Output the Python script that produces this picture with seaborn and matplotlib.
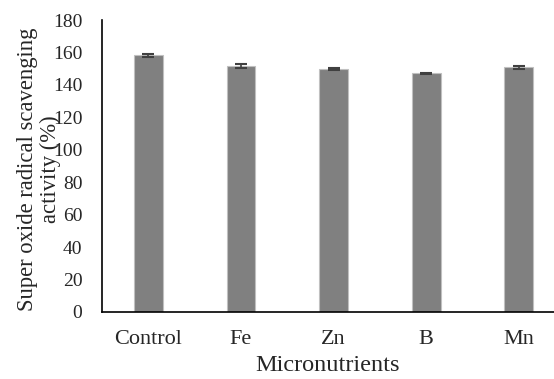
import matplotlib
matplotlib.use("Agg")
import matplotlib.pyplot as plt
import seaborn as sns
import pandas as pd

categories = ["Control", "Fe", "Zn", "B", "Mn"]
activity = [158.2, 151.9, 149.6, 147.1, 150.8]
errors = [1.0, 1.3, 0.6, 0.5, 0.9]
yticks = [0, 20, 40, 60, 80, 100, 120, 140, 160, 180]

sns.set_theme(style="white")
plt.rcParams["font.family"] = ["Liberation Serif", "DejaVu Serif"]

df = pd.DataFrame({"Micronutrients": categories, "activity": activity})

fig = plt.figure(figsize=(5.54, 3.79), dpi=100)
ax = fig.add_axes([0.184, 0.177, 0.816, 0.770])

sns.barplot(data=df, x="Micronutrients", y="activity", color="#808080",
            width=0.31, edgecolor="#c0c0c0", linewidth=0.8, saturation=1,
            ax=ax, errorbar=None)
ax.errorbar(range(len(categories)), activity, yerr=errors, fmt="none",
            ecolor="#404040", elinewidth=1.2, capsize=4.3, capthick=1.5)

ax.set_xlim(-0.5, 4.38)
ax.set_ylim(0, 180)
ax.set_yticks(yticks)
ax.set_yticklabels([str(t) for t in yticks], fontsize=14)
ax.tick_params(axis="y", direction="out", length=4, width=1, color="black", pad=10)
ax.tick_params(axis="x", length=0, labelsize=16, pad=13)

for side in ["top", "right"]:
    ax.spines[side].set_visible(False)
for side in ["left", "bottom"]:
    ax.spines[side].set_color("black")
    ax.spines[side].set_linewidth(1.2)

ax.set_xlabel("Micronutrients", fontsize=17.5, labelpad=4)
ax.set_ylabel("Super oxide radical scavenging\nactivity (%)", fontsize=16.3,
              linespacing=1.1)
ax.yaxis.set_label_coords(-0.09, 0.49)

fig.savefig("out.png", dpi=100)
